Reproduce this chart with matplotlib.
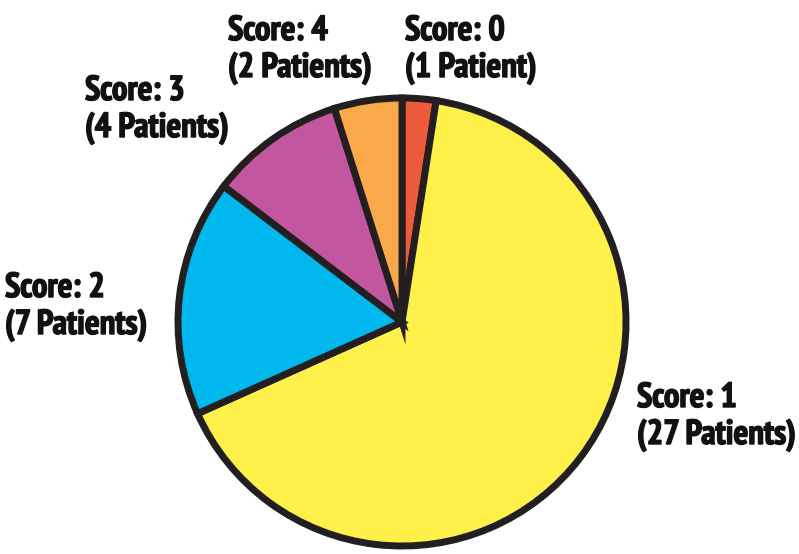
import matplotlib
matplotlib.use("Agg")
import matplotlib.pyplot as plt
import matplotlib.patheffects as pe

scores = ["Score: 0", "Score: 1", "Score: 2", "Score: 3", "Score: 4"]
patients = [1, 27, 7, 4, 2]
colors = ["#EE5A3C", "#FFF04A", "#00B8EE", "#C3579F", "#F9A84A"]

fam = ["PT Sans Narrow", "DejaVu Sans"]

W, H = 799, 554
fig = plt.figure(figsize=(W / 100, H / 100), dpi=100)
cx, cy, r = 402, 322, 224
ax = fig.add_axes([(cx - r) / W, (H - cy - r) / H, 2 * r / W, 2 * r / H])
ax.pie(patients, colors=colors, startangle=90, counterclock=False, radius=1,
       wedgeprops=dict(edgecolor="#231F20", linewidth=5.0, joinstyle="miter"))
ax.set_xlim(-1.0, 1.0)
ax.set_ylim(-1.0, 1.0)
ax.set_aspect("equal")
ax.axis("off")

def lab(n):
    return "(%d Patient%s)" % (n, "" if n == 1 else "s")

pos = [(405, 15), (637, 382), (5, 272), (85, 75), (228, 15)]
for s, n, (x, y) in zip(scores, patients, pos):
    fig.text(x / W, 1 - y / H, s + "\n" + lab(n), ha="left", va="top",
             fontsize=25, fontweight="bold", family=fam, color="#111111",
             linespacing=1.2,
             path_effects=[pe.withStroke(linewidth=1.0, foreground="#111111")])

fig.savefig("out.png", dpi=100)
